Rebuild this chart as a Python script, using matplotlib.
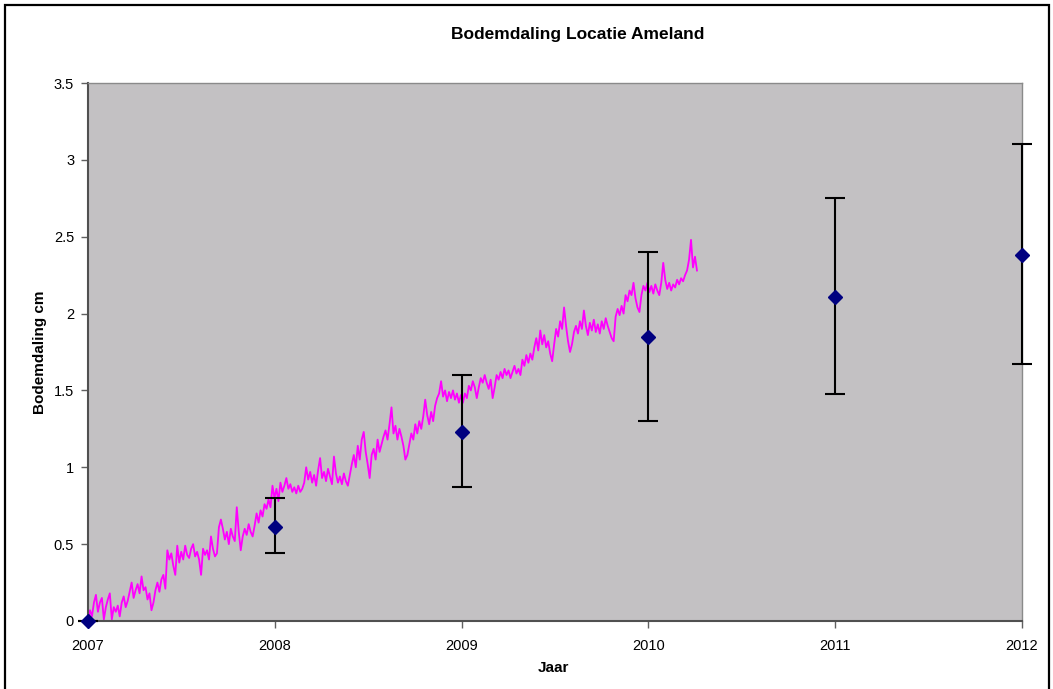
import numpy as np
import matplotlib
matplotlib.use("Agg")
import matplotlib.pyplot as plt
from matplotlib.patches import Rectangle

# ---------------- data ----------------
title = "Bodemdaling Locatie Ameland"
xlabel = "Jaar"
ylabel = "Bodemdaling cm"

# survey points (year, subsidence cm, lower/upper bound)
survey_years = [2007, 2008, 2009, 2010, 2011, 2012]
survey_values = [0.00, 0.61, 1.23, 1.85, 2.11, 2.38]
survey_low = [0.00, 0.44, 0.87, 1.30, 1.48, 1.67]
survey_high = [0.00, 0.80, 1.60, 2.40, 2.75, 3.10]

# continuous (GPS) record, evenly spaced from start to end
series_start = 2007.0
series_end = 2010.26
series_values = [
    0.00, 0.07, 0.03, 0.12, 0.17, 0.06, 0.12, 0.15, 0.01, 0.09, 0.14, 0.18,
    0.01, 0.09, 0.06, 0.10, 0.03, 0.12, 0.16, 0.09, 0.13, 0.19, 0.25,
    0.15, 0.20, 0.24, 0.18, 0.29, 0.20, 0.22, 0.14, 0.18, 0.07, 0.12, 0.20,
    0.25, 0.19, 0.27, 0.30, 0.21,
    0.46, 0.40, 0.44, 0.36, 0.30, 0.49, 0.38, 0.45, 0.40, 0.49, 0.43, 0.41,
    0.47, 0.50, 0.42, 0.45, 0.40, 0.30, 0.47, 0.43, 0.46, 0.40, 0.55, 0.47,
    0.42, 0.44,
    0.61, 0.66, 0.60, 0.53, 0.58, 0.50, 0.60, 0.55, 0.52,
    0.74, 0.58, 0.46, 0.55, 0.60, 0.56, 0.63, 0.58, 0.55, 0.62, 0.70, 0.64,
    0.72, 0.68, 0.76, 0.73, 0.79, 0.74, 0.88, 0.80, 0.86, 0.78, 0.90, 0.84,
    0.88, 0.93, 0.86, 0.89, 0.84, 0.87, 0.83, 0.88, 0.84, 0.86, 0.90,
    1.00, 0.92, 0.97, 0.90, 0.95, 0.88, 0.98,
    1.06, 0.93, 0.97, 0.91, 0.99, 0.94, 0.89,
    1.07, 0.96, 0.90, 0.94, 0.89, 0.96, 0.91, 0.88, 0.95, 1.02, 1.08, 1.00,
    1.14, 1.05, 1.18,
    1.23, 1.10, 1.02, 0.93, 1.08, 1.12, 1.05, 1.18, 1.10, 1.15, 1.20, 1.24,
    1.18, 1.28,
    1.39, 1.22, 1.27, 1.18, 1.25, 1.20, 1.14, 1.05, 1.08, 1.15, 1.22, 1.18,
    1.28, 1.22, 1.30, 1.25, 1.33,
    1.44, 1.34, 1.28, 1.36, 1.30, 1.40, 1.45, 1.48, 1.56, 1.46, 1.50, 1.43,
    1.49, 1.45, 1.50, 1.44, 1.48, 1.42, 1.47, 1.42, 1.48, 1.45, 1.53, 1.50,
    1.56, 1.52, 1.45, 1.52, 1.58, 1.55, 1.60, 1.55, 1.51, 1.57, 1.45, 1.52,
    1.60, 1.57, 1.62, 1.58, 1.64, 1.60, 1.63, 1.58, 1.62, 1.66, 1.61, 1.64,
    1.60, 1.70, 1.66, 1.73, 1.68, 1.74, 1.70, 1.78, 1.84, 1.76, 1.89, 1.80,
    1.86, 1.78, 1.82, 1.74, 1.69, 1.80, 1.90, 1.85, 1.95, 1.90, 2.04, 1.92,
    1.82, 1.75, 1.80, 1.88, 1.92, 1.87, 1.95, 1.90, 2.02, 1.92, 1.86, 1.94,
    1.89, 1.96, 1.88, 1.93, 1.87, 1.95, 1.90, 1.97, 1.92, 1.88, 1.84, 1.82,
    1.98, 2.03, 1.99, 2.05, 2.00, 2.12, 2.08, 2.15, 2.12,
    2.20, 2.10, 2.04,
    2.01, 2.12, 2.18, 2.15, 2.20, 2.14, 2.18, 2.13, 2.19, 2.15, 2.12, 2.20,
    2.33, 2.22, 2.16, 2.20, 2.15, 2.19, 2.17, 2.22, 2.19, 2.23, 2.21, 2.25,
    2.28, 2.35,
    2.48, 2.30, 2.37, 2.28,
]

x_ticks = [2007, 2008, 2009, 2010, 2011, 2012]
x_ticklabels = ["2007", "2008", "2009", "2010", "2011", "2012"]
y_ticks = [0, 0.5, 1, 1.5, 2, 2.5, 3, 3.5]
y_ticklabels = ["0", "0.5", "1", "1.5", "2", "2.5", "3", "3.5"]

# ---------------- figure ----------------
plt.rcParams['font.family'] = ['Liberation Sans', 'DejaVu Sans']
W, H = 1053, 689
fig = plt.figure(figsize=(W / 100, H / 100), dpi=100)
fig.patch.set_facecolor('white')

L, R, T, B = 88, 1022, 83, 621
ax = fig.add_axes([L / W, 1 - B / H, (R - L) / W, (B - T) / H])
ax.set_facecolor('#C3C1C3')

series_years = np.linspace(series_start, series_end, len(series_values))
ax.plot(series_years, series_values, color='#FF00FF', lw=1.3, zorder=2)

vals = np.array(survey_values)
yerr = np.vstack([vals - np.array(survey_low), np.array(survey_high) - vals])
ax.errorbar(survey_years, survey_values, yerr=yerr, fmt='D', color='#000080',
            ms=7, mec='#000080', ecolor='black', elinewidth=1.5,
            capsize=7, capthick=1.5, zorder=3, clip_on=False)

ax.set_xlim(2007, 2012)
ax.set_ylim(0, 3.5)
ax.set_xticks(x_ticks)
ax.set_xticklabels(x_ticklabels)
ax.set_yticks(y_ticks)
ax.set_yticklabels(y_ticklabels)
ax.tick_params(axis='both', direction='out', length=5, width=1,
               color='#606060', labelsize=10.5, labelcolor='black')
ax.tick_params(axis='x', pad=8)
ax.tick_params(axis='y', pad=5)

for s in ['top', 'right']:
    ax.spines[s].set_color('#8A8A8A')
    ax.spines[s].set_linewidth(1.0)
for s in ['left', 'bottom']:
    ax.spines[s].set_color('#505050')
    ax.spines[s].set_linewidth(1.5)

fig.text(578 / W, 1 - 34 / H, title, ha='center', va='center',
         fontsize=12.5, fontweight='bold')
fig.text(553 / W, 1 - 668 / H, xlabel, ha='center', va='center',
         fontsize=11, fontweight='bold')
fig.text(40 / W, 1 - 352 / H, ylabel, ha='center', va='center',
         rotation=90, fontsize=11, fontweight='bold')

# outer chart border
fig.add_artist(Rectangle((5 / W, -0.05), (1049 - 5) / W, 1.05 - 5 / H,
                         transform=fig.transFigure, fill=False,
                         edgecolor='black', lw=1.6))

fig.savefig('out.png', dpi=100)
